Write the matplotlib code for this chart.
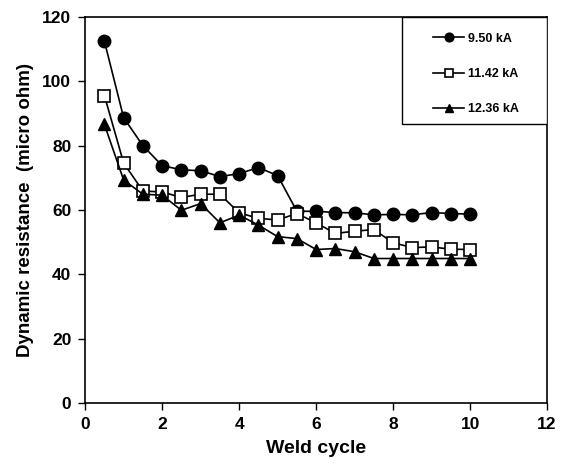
import matplotlib.pyplot as plt
from matplotlib.patches import Rectangle

plt.rcParams['font.family'] = ['Liberation Sans', 'DejaVu Sans']
plt.rcParams['font.weight'] = 'bold'

# weld cycle (x) and dynamic resistance (micro ohm)
cycles = [0.5, 1, 1.5, 2, 2.5, 3, 3.5, 4, 4.5, 5,
          5.5, 6, 6.5, 7, 7.5, 8, 8.5, 9, 9.5, 10]
r_950 = [112.5, 88.7, 80.0, 73.8, 72.5, 72.2, 70.4, 71.3, 73.2, 70.7,
         59.6, 59.6, 59.2, 59.1, 58.5, 58.6, 58.5, 59.2, 58.9, 58.7]
r_1142 = [95.6, 74.6, 65.9, 65.6, 63.9, 64.9, 64.9, 59.1, 57.4, 56.9,
          58.9, 56.0, 52.7, 53.4, 53.9, 49.8, 48.3, 48.5, 47.8, 47.7]
r_1236 = [86.6, 69.3, 64.9, 64.6, 59.9, 62.0, 56.0, 58.4, 55.3, 51.7,
          51.1, 47.7, 48.0, 47.0, 44.9, 44.9, 44.9, 44.9, 44.9, 44.9]
labels = ['9.50 kA', '11.42 kA', '12.36 kA']

fig = plt.figure(figsize=(5.64, 4.63), dpi=100)
ax = fig.add_axes([0.151, 0.130, 0.819, 0.833])

ax.plot(cycles, r_950, '-o', color='black', mfc='black', ms=9, lw=1.2, label=labels[0])
ax.plot(cycles, r_1142, '-s', color='black', mfc='white', ms=8, mew=1.2, lw=1.2, label=labels[1])
ax.plot(cycles, r_1236, '-^', color='black', mfc='black', ms=9, lw=1.2, label=labels[2])

ax.set_xlim(0, 12)
ax.set_ylim(0, 120)
ax.set_xticks(range(0, 13, 2))
ax.set_yticks(range(0, 121, 20))
ax.tick_params(direction='out', length=5, labelsize=12.5, width=1, pad=5)
for s in ax.spines.values():
    s.set_linewidth(1.2)

ax.set_xlabel('Weld cycle', fontsize=14, fontweight='bold', labelpad=6)
ax.set_ylabel('Dynamic resistance  (micro ohm)', fontsize=13.5, fontweight='bold', labelpad=6)

# legend box (wider padding than matplotlib's own frame allows)
ax.add_patch(Rectangle((0.686, 0.723), 0.314, 0.277, transform=ax.transAxes,
                       facecolor='white', edgecolor='black', lw=1.0, zorder=3))
leg = ax.legend(loc='upper left', bbox_to_anchor=(0.753, 0.960), fontsize=9,
                frameon=False, markerscale=0.7, handlelength=2.5,
                labelspacing=1.87, borderpad=0.0, borderaxespad=0.0,
                handletextpad=0.3)
leg.set_zorder(4)

fig.savefig('out.png', dpi=100)
